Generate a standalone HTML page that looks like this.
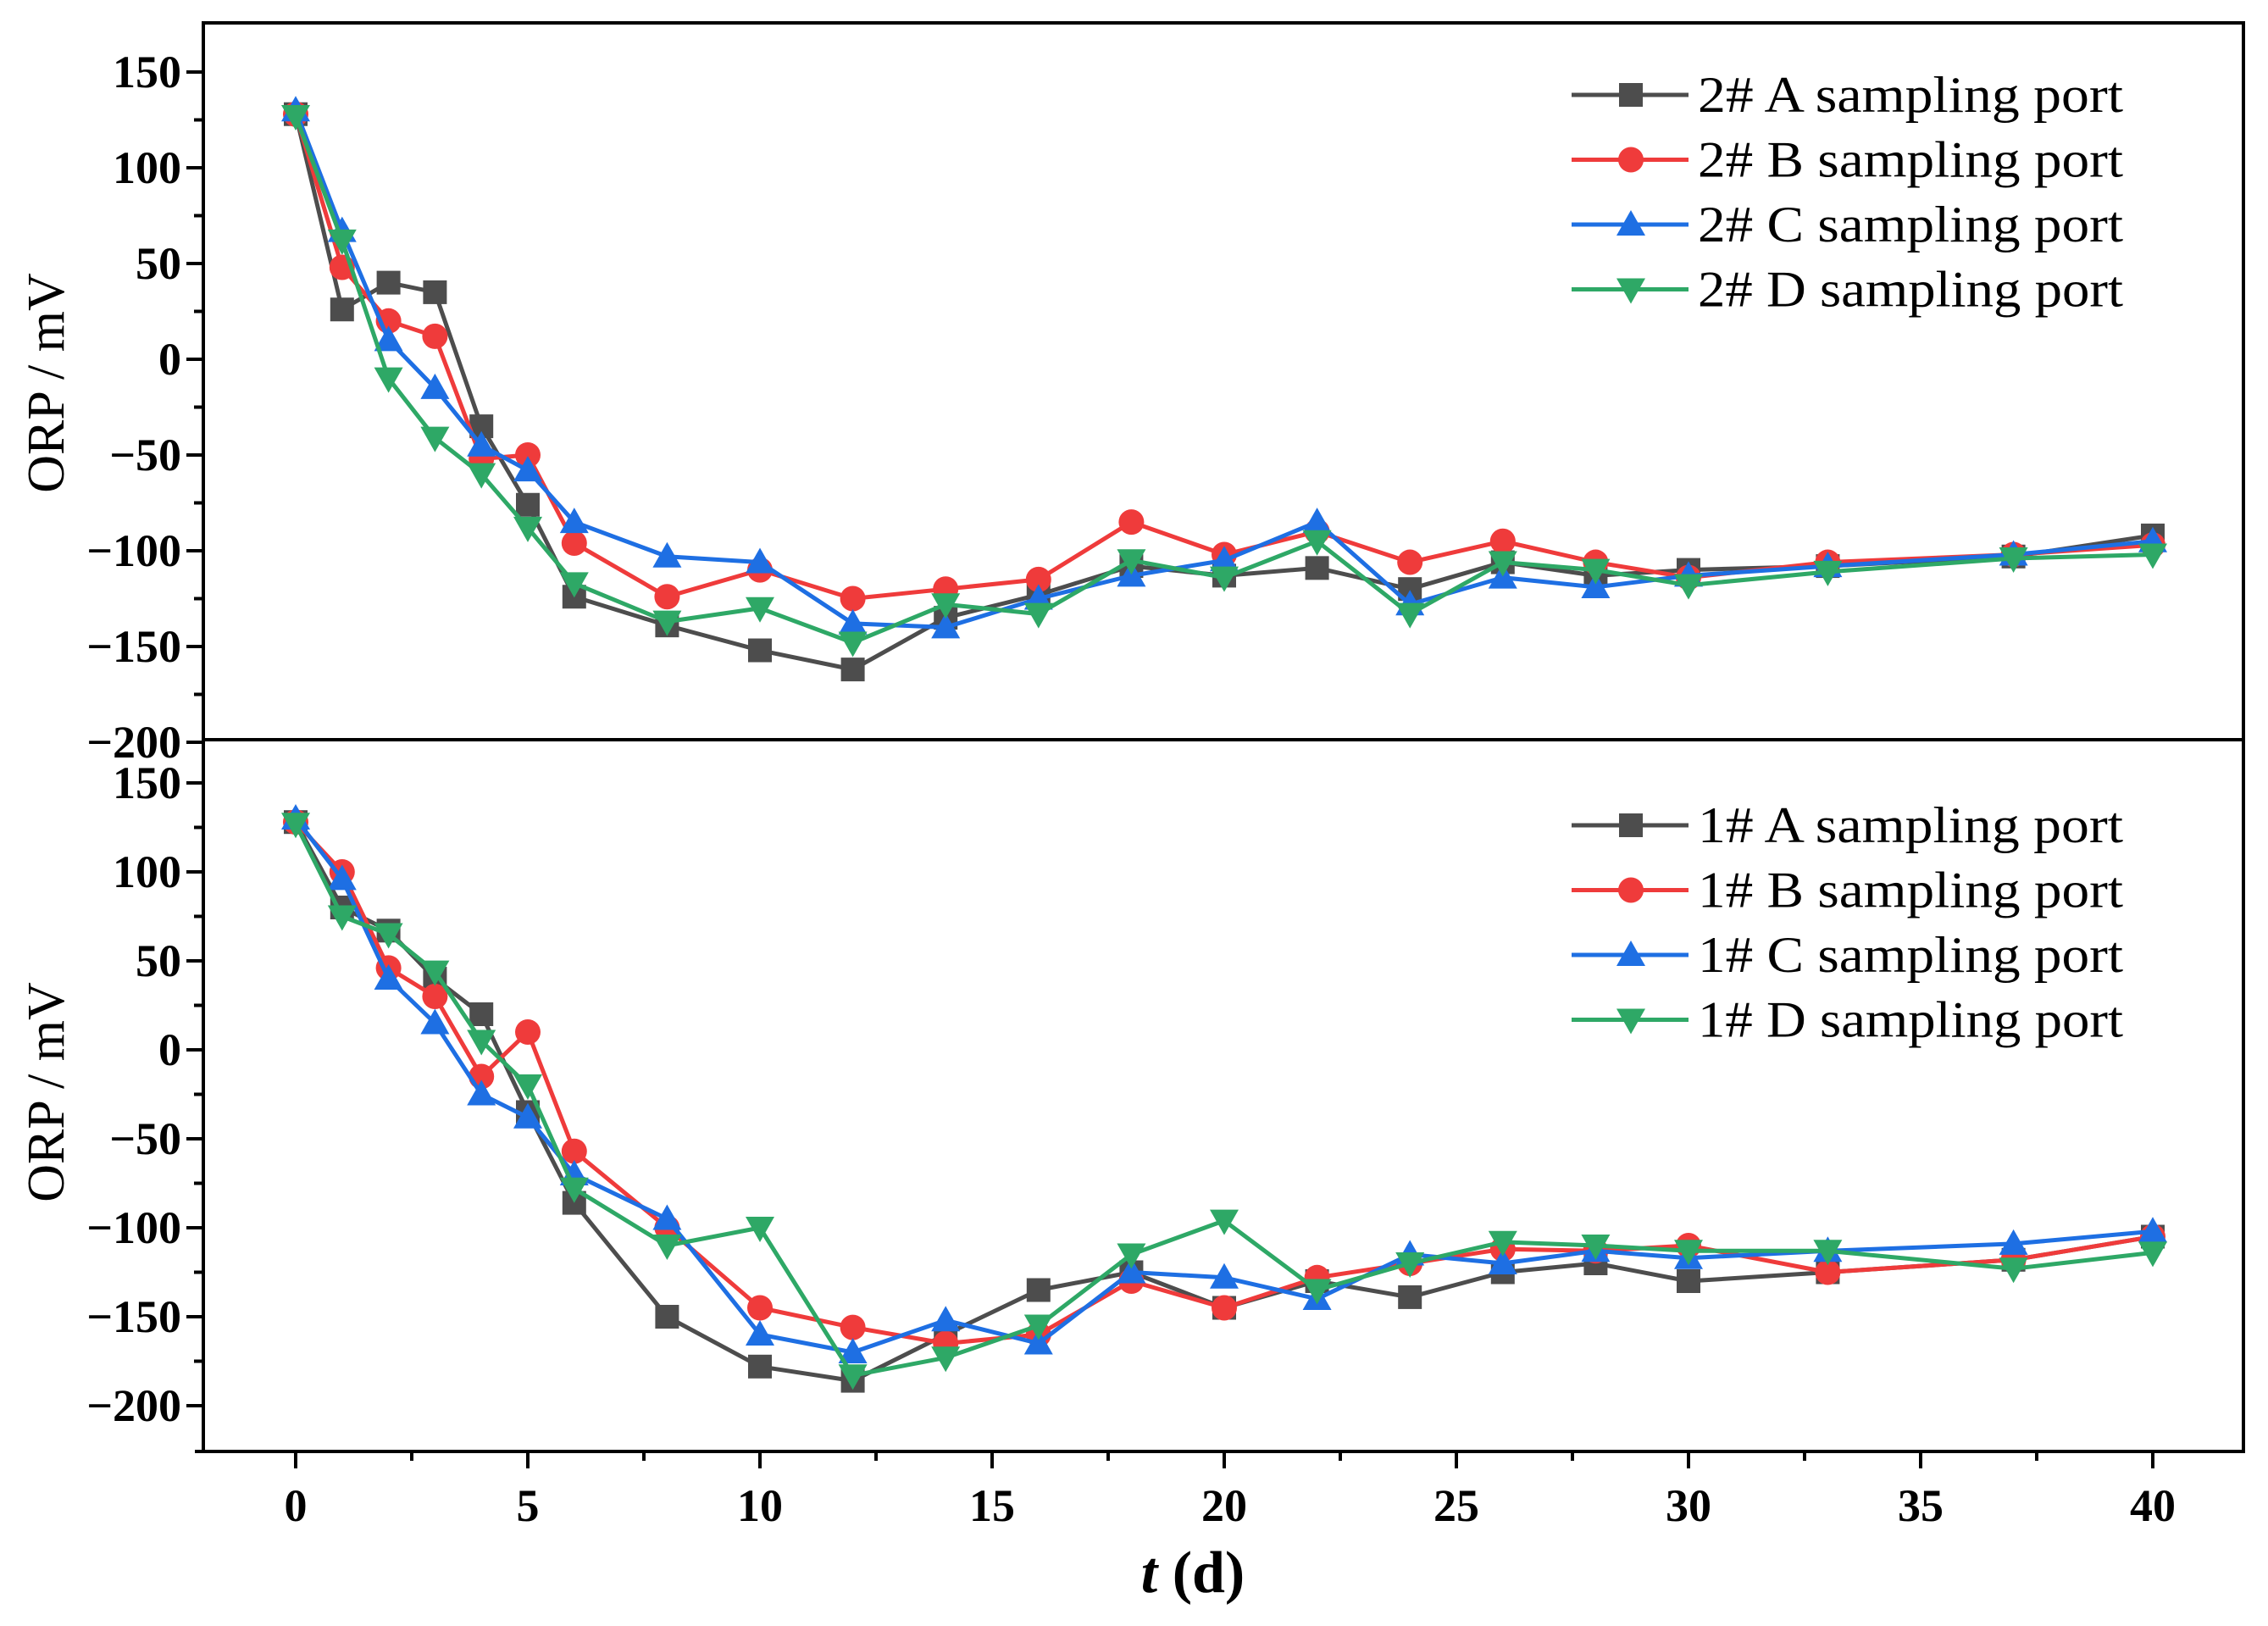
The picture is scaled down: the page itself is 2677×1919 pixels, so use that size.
<!DOCTYPE html>
<html><head><meta charset="utf-8"><style>
html,body{margin:0;padding:0;background:#fff;}
svg{display:block;font-family:"Liberation Serif",serif;}
</style></head><body>
<svg id="chart" width="2677" height="1919" viewBox="0 0 2677 1919" xmlns="http://www.w3.org/2000/svg">
<rect x="0" y="0" width="2677" height="1919" fill="#fff"/>
<g id="frame"></g>
<g id="series"></g>
<g id="legend"></g>
</svg>
<script>
const days = [0,1,2,3,4,5,6,8,10,12,14,16,18,20,22,24,26,28,30,33,37,40];
const up_A = [128,26,40,35,-35,-76,-124,-139,-152,-162,-135,-123,-108,-113,-109,-120,-106,-113,-110,-108,-103,-92];
const up_B = [128,48,20,12,-52,-50,-96,-124,-110,-125,-120,-115,-85,-102,-90,-106,-95,-106,-114,-106,-102,-97];
const up_C = [130,67,10,-15,-45,-58,-85,-103,-106,-138,-140,-125,-113,-105,-85,-128,-114,-119,-113,-108,-102,-95];
const up_D = [127,62,-10,-41,-60,-88,-117,-137,-130,-148,-128,-133,-105,-114,-95,-133,-106,-110,-118,-111,-104,-102];
const lo_A = [128,80,67,40,20,-35,-86,-150,-178,-186,-160,-135,-125,-145,-130,-139,-125,-120,-130,-125,-118,-105];
const lo_B = [128,100,46,30,-15,10,-57,-100,-145,-156,-165,-160,-130,-145,-128,-120,-112,-113,-110,-125,-118,-105];
const lo_C = [130,96,40,15,-25,-38,-70,-95,-160,-170,-152,-165,-125,-128,-140,-115,-120,-113,-117,-113,-109,-102];
const lo_D = [127,75,65,44,5,-20,-78,-110,-100,-183,-173,-155,-115,-96,-135,-120,-108,-110,-113,-113,-123,-114];
const yTicks = [150,100,50,0,-50,-100,-150,-200];
const xTicks = [0,5,10,15,20,25,30,35,40];
const upNames = ["2# A sampling port","2# B sampling port","2# C sampling port","2# D sampling port"];
const loNames = ["1# A sampling port","1# B sampling port","1# C sampling port","1# D sampling port"];

const NS="http://www.w3.org/2000/svg";
const colors=["#4d4d4d","#ef3b3b","#1e6fe3","#2ea866"];
const shapes=["square","circle","up","down"];
const L=240,R=2648,TOP=27,MID=873,BOT=1713;
const xS=d=>349+d*54.8;
const yUp=v=>85+(150-v)*113/50;
const yLo=v=>924+(150-v)*105/50;
function mk(tag,attrs,parent,txt){const e=document.createElementNS(NS,tag);for(const k in attrs)e.setAttribute(k,attrs[k]);if(txt!==undefined)e.textContent=txt;parent.appendChild(e);return e;}
const frame=document.getElementById('frame'),ser=document.getElementById('series'),leg=document.getElementById('legend');

function marker(shape,x,y,c,parent){
  let e;
  if(shape==="square")e=mk('rect',{x:x-14,y:y-14,width:28,height:28,fill:c},parent);
  else if(shape==="circle")e=mk('circle',{cx:x,cy:y,r:15,fill:c},parent);
  else if(shape==="up")e=mk('polygon',{points:`${x},${y-17} ${x-17},${y+13} ${x+17},${y+13}`,fill:c},parent);
  else e=mk('polygon',{points:`${x},${y+17} ${x-17},${y-13} ${x+17},${y-13}`,fill:c},parent);
  return e;
}

let fr=mk('rect',{x:L,y:TOP,width:R-L,height:BOT-TOP,fill:"none",stroke:"#000","stroke-width":4},frame);


let dv=mk('line',{x1:L,y1:MID,x2:R,y2:MID,stroke:"#000","stroke-width":4},frame);



function yAxis(ys,name){
  const g=mk('g',{},frame);
  
  
  yTicks.forEach(v=>{
    const y=ys(v);
    mk('line',{x1:L-20,y1:y,x2:L,y2:y,stroke:"#000","stroke-width":4},g);
    const t=mk('text',{x:L-26,y:y+18,"text-anchor":"end","font-size":54,"font-weight":"bold"},g,v<0?"\u2212"+(-v):String(v));
    
    
  });
  for(let v=125;v>-200;v-=50){ if(ys(v)>TOP+2 && ys(v)<BOT) mk('line',{x1:L-11,y1:ys(v),x2:L,y2:ys(v),stroke:"#000","stroke-width":4},g);}
}
yAxis(yUp,'upper-y-axis');
yAxis(yLo,'lower-y-axis');

const xg=mk('g',{},frame);


mk('line',{x1:L-10,y1:BOT,x2:R,y2:BOT,stroke:"#000","stroke-width":4},xg);
xTicks.forEach(d=>{
  mk('line',{x1:xS(d),y1:BOT,x2:xS(d),y2:BOT+20,stroke:"#000","stroke-width":4},xg);
  const t=mk('text',{x:xS(d),y:BOT+82,"text-anchor":"middle","font-size":54,"font-weight":"bold"},xg,String(d));
  
  
});
for(let d=2.5;d<41;d+=5) mk('line',{x1:xS(d),y1:BOT,x2:xS(d),y2:BOT+11,stroke:"#000","stroke-width":4},xg);
const xt=mk('text',{x:1408,y:1879,"text-anchor":"middle","font-size":70,"font-weight":"bold"},frame);


mk('tspan',{"font-style":"italic"},xt,"t");
mk('tspan',{},xt," (d)");

[[452,'upper-y-axis-title'],[1289,'lower-y-axis-title']].forEach(([cy,n])=>{
  const t=mk('text',{x:0,y:0,"text-anchor":"middle","font-size":62,transform:`translate(75,${cy}) rotate(-90)`},frame,"ORP / mV");
  
  
});

function drawPanel(arrs,ys,prefix){
  arrs.forEach((vals,i)=>{
    const g=mk('g',{},ser);
    
    
    const pts=vals.map((v,j)=>xS(days[j])+","+ys(v)).join(" ");
    mk('polyline',{points:pts,fill:"none",stroke:colors[i],"stroke-width":5,"stroke-linejoin":"round"},g);
    vals.forEach((v,j)=>{
      const m=marker(shapes[i],xS(days[j]),ys(v),colors[i],g);
      
      
    });
  });
}
drawPanel([up_A,up_B,up_C,up_D],yUp,'upper');
drawPanel([lo_A,lo_B,lo_C,lo_D],yLo,'lower');

function legend(names,ys0,name){
  const g=mk('g',{},leg);
  
  
  names.forEach((n,i)=>{
    const y=ys0+i*76.5;
    const e=mk('g',{},g);
    
    
    mk('line',{x1:1855,y1:y,x2:1993,y2:y,stroke:colors[i],"stroke-width":5},e);
    marker(shapes[i],1925,y,colors[i],e);
    mk('text',{x:2004,y:y+20,"font-size":60,textLength:502,lengthAdjust:"spacingAndGlyphs"},e,n);
  });
}
legend(upNames,112,'upper-legend');
legend(loNames,974,'lower-legend');
</script>
</body></html>
